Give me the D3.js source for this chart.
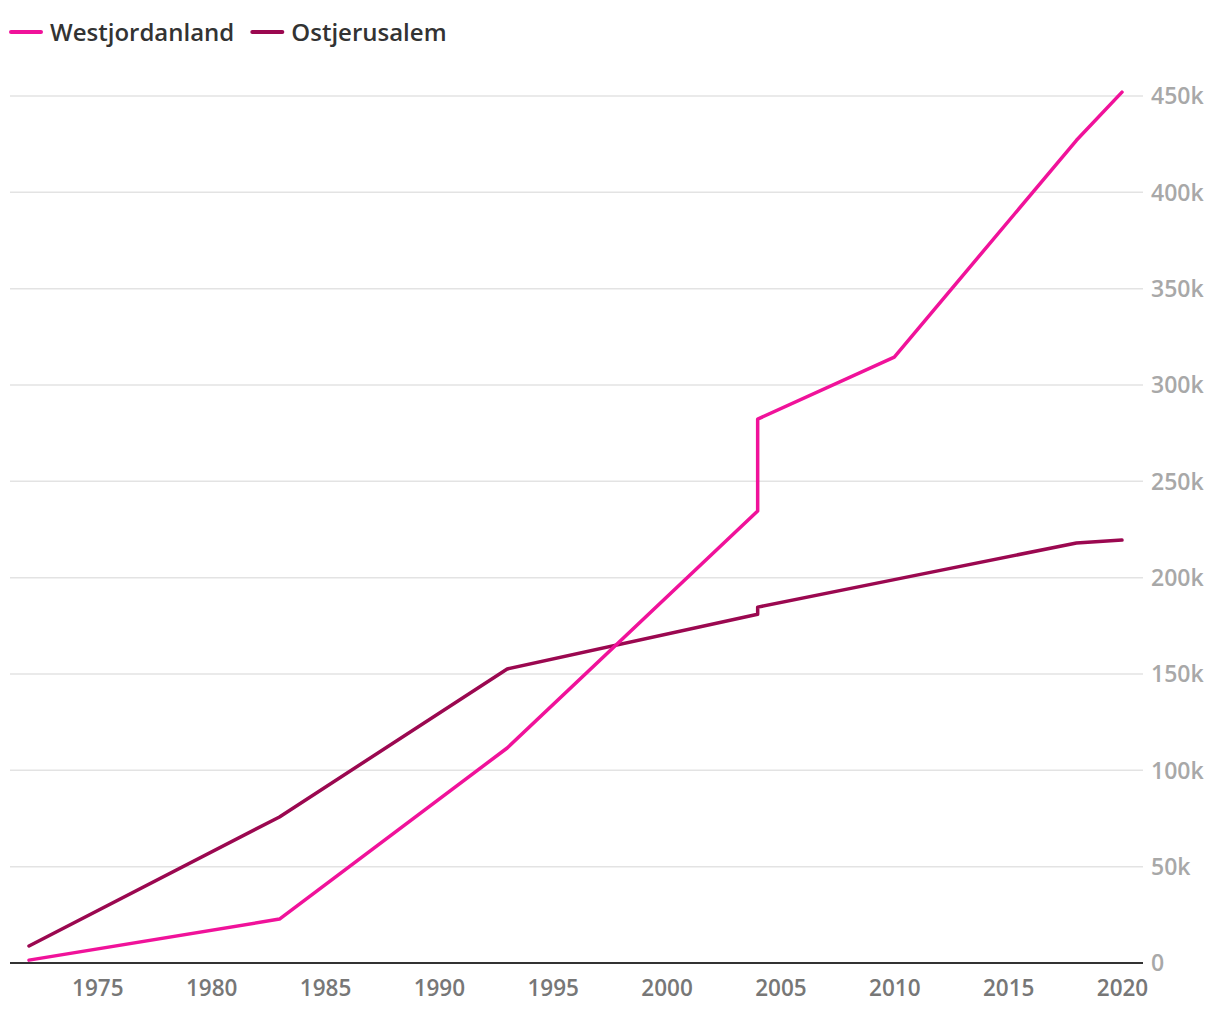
<!DOCTYPE html>
<html><head><meta charset="utf-8">
<script src="https://cdn.jsdelivr.net/npm/d3@7"></script>
<style>
body{margin:0;background:#fff;font-family:"Open Sans",sans-serif;}
</style></head><body>
<svg id="chart" width="1220" height="1020"></svg>
<script>
const seriesNames = ["Westjordanland", "Ostjerusalem"];
const seriesColors = ["#f0129a", "#9b0850"];
const westYears = [1972, 1983, 1993, 2004, 2004, 2010, 2018, 2020];
const westValues = [1500, 22800, 111600, 234600, 282300, 314500, 427000, 452000];
const eastYears = [1972, 1983, 1993, 2004, 2004, 2010, 2018, 2020];
const eastValues = [8800, 75800, 152600, 181000, 184700, 199000, 218000, 219500];
const xTicks = [1975, 1980, 1985, 1990, 1995, 2000, 2005, 2010, 2015, 2020];
const yTicks = [0, 50000, 100000, 150000, 200000, 250000, 300000, 350000, 400000, 450000];

const svg = d3.select("#chart");
const left = 10, right = 1143;
const x = d3.scaleLinear().domain([1972, 2020]).range([29, 1122]);
const y = d3.scaleLinear().domain([0, 450000]).range([963, 96]);

// grid
svg.append("g").selectAll("line").data(yTicks.slice(1)).join("line")
  .attr("x1", left).attr("x2", right)
  .attr("y1", d => y(d)).attr("y2", d => y(d))
  .attr("stroke", "#e3e3e3").attr("stroke-width", 1.5);

// y labels
svg.append("g").selectAll("text").data(yTicks).join("text")
  .attr("x", 1151).attr("y", d => y(d)).attr("dy", "0.36em")
  .attr("fill", "#a8a8a8").attr("font-size", 23).attr("font-weight", 600)
  .text(d => d === 0 ? "0" : (d / 1000) + "k");

// x axis
const xAxis = d3.axisBottom(x).tickValues(xTicks).tickSize(0).tickPadding(17).tickFormat(d3.format("d"));
const gx = svg.append("g").attr("transform", `translate(0,${y(0)})`).call(xAxis);
gx.select(".domain").remove();
gx.selectAll("text").attr("fill", "#777").attr("font-size", 22.5).attr("font-weight", 600).attr("font-family", "Open Sans");
svg.append("line").attr("x1", left).attr("x2", right).attr("y1", y(0)).attr("y2", y(0))
  .attr("stroke", "#333").attr("stroke-width", 2);

const line = d3.line().x(d => x(d[0])).y(d => y(d[1]));
const series = [
  westYears.map((yr, i) => [yr, westValues[i]]),
  eastYears.map((yr, i) => [yr, eastValues[i]])
];
series.slice().reverse().forEach((s, k) => {
  const i = series.length - 1 - k;
  svg.append("path").datum(s).attr("d", line)
    .attr("fill", "none").attr("stroke", seriesColors[i]).attr("stroke-width", 3.5)
    .attr("stroke-linejoin", "round").attr("stroke-linecap", "round");
});

// legend
const leg = svg.append("g");
let lx = 11;
seriesNames.forEach((n, i) => {
  leg.append("line").attr("x1", lx).attr("x2", lx + 30).attr("y1", 32).attr("y2", 32)
    .attr("stroke", seriesColors[i]).attr("stroke-width", 4).attr("stroke-linecap", "round");
  const t = leg.append("text").attr("x", lx + 39).attr("y", 32).attr("dy", "0.36em")
    .attr("fill", "#333").attr("font-size", 24).attr("font-weight", 600).text(n);
  lx += 39 + t.node().getComputedTextLength() + 18;
});
</script></body></html>
